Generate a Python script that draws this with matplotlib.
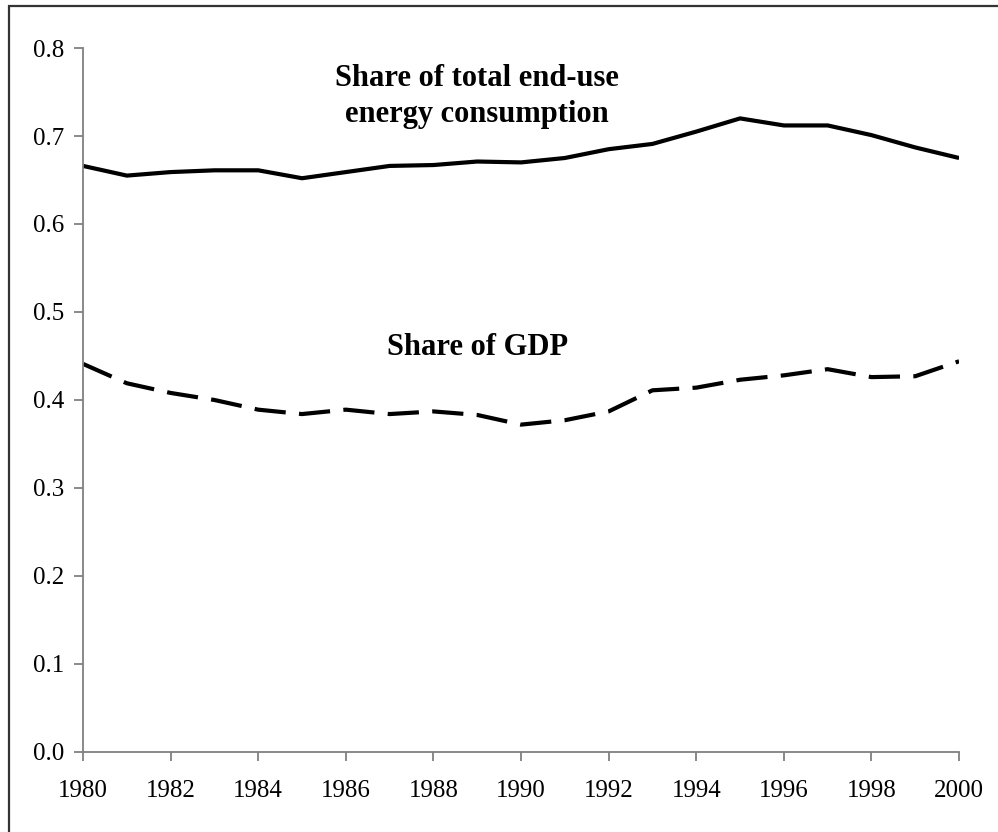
import matplotlib
matplotlib.use('Agg')
import matplotlib.pyplot as plt
from matplotlib.patches import Rectangle

# values
years = list(range(1980, 2001))
energy_share = [0.666, 0.655, 0.659, 0.661, 0.661, 0.652, 0.659, 0.666, 0.667, 0.671,
                0.670, 0.675, 0.685, 0.691, 0.705, 0.720, 0.712, 0.712, 0.701, 0.687, 0.675]
gdp_share = [0.441, 0.419, 0.408, 0.400, 0.389, 0.384, 0.389, 0.384, 0.387, 0.383,
             0.372, 0.377, 0.387, 0.411, 0.414, 0.423, 0.428, 0.435, 0.426, 0.427, 0.444]
x_ticks = list(range(1980, 2001, 2))
y_ticks = [0.0, 0.1, 0.2, 0.3, 0.4, 0.5, 0.6, 0.7, 0.8]

plt.rcParams['font.family'] = ['Liberation Serif', 'DejaVu Serif']

fig = plt.figure(figsize=(9.98, 8.32), dpi=100)
ax = fig.add_axes([0.0832, 0.0962, 0.8778, 0.8461])

ax.plot(years, energy_share, color='black', linewidth=3, solid_capstyle='butt')
ax.plot(years, gdp_share, color='black', linewidth=3, linestyle=(0, (7.5, 3.2)), dash_capstyle='butt')

# labels, placed by baseline
ax.text(1989.0, 0.7568, 'Share of total end-use', ha='center', va='baseline',
        fontsize=22, fontweight='bold')
ax.text(1989.0, 0.7159, 'energy consumption', ha='center', va='baseline',
        fontsize=22, fontweight='bold')
ax.text(1989.0, 0.4511, 'Share of GDP', ha='center', va='baseline', fontsize=22, fontweight='bold')

ax.set_xlim(1980, 2000)
ax.set_ylim(0, 0.8)
ax.set_xticks(x_ticks)
ax.set_yticks(y_ticks)
ax.set_yticklabels(['%.1f' % v for v in y_ticks])
for s in ['top', 'right']:
    ax.spines[s].set_visible(False)
for s in ['left', 'bottom']:
    ax.spines[s].set_color('#808080')
    ax.spines[s].set_linewidth(1.3)
ax.tick_params(axis='both', direction='out', length=6.5, width=1.3, color='#808080', labelsize=18)
ax.tick_params(axis='x', pad=14)
ax.tick_params(axis='y', pad=7)

# frame around the chart (right and bottom edges fall outside the image)
fig.patches.append(Rectangle((9 / 998, -0.1), 1.2, 1.1 - 6 / 832, transform=fig.transFigure,
                             fill=False, edgecolor='#333333', linewidth=1.6))

fig.savefig('out.png', dpi=100)
